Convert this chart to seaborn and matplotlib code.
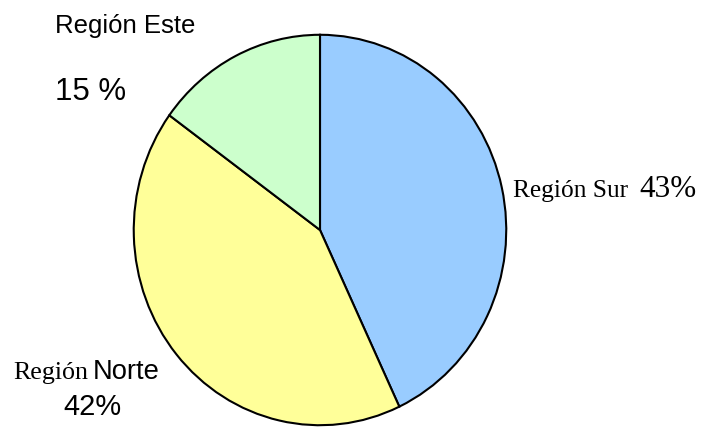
import matplotlib
matplotlib.use("Agg")
import matplotlib.pyplot as plt
import seaborn as sns

regions = ["Región Sur", "Región Norte", "Región Este"]
shares = [43, 42, 15]
colors = ["#99CCFF", "#FFFF99", "#CCFFCC"]

sns.set_theme(style="white")
palette = sns.color_palette(colors)

W, H = 702, 428
fig = plt.figure(figsize=(W / 100, H / 100), dpi=100)
fig.patch.set_facecolor("white")

# pie area in pixel coordinates (left, top, right, bottom)
L, T, R, B = 133, 34, 507, 426
ax = fig.add_axes([L / W, 1 - B / H, (R - L) / W, (B - T) / H])
ax.pie(shares, colors=palette, startangle=90, counterclock=False, radius=1,
       wedgeprops=dict(edgecolor="black", linewidth=1.5))
ax.set_aspect("auto")
ax.set_xlim(-1.004, 1.004)
ax.set_ylim(-1.004, 1.004)
ax.axis("off")

serif = "Liberation Serif"
sans = "Liberation Sans"

def txt(x, y, s, family, size):
    fig.text(x / W, 1 - y / H, s, family=family, fontsize=size,
             ha="left", va="baseline", color="black")

# Región Este
txt(55, 33, "Región Este", sans, 18.5)
txt(55, 100, f"{shares[2]} %", sans, 22.5)
# Región Sur
txt(513, 197, "Región Sur", serif, 18.3)
txt(639, 197, f"{shares[0]}%", serif, 22.4)
# Región Norte
txt(13, 379, "Región", serif, 18.7)
txt(93, 379, "Norte", sans, 19.7)
txt(63, 415, f"{shares[1]}%", sans, 20.9)

fig.savefig("out.png", dpi=100, facecolor="white")
